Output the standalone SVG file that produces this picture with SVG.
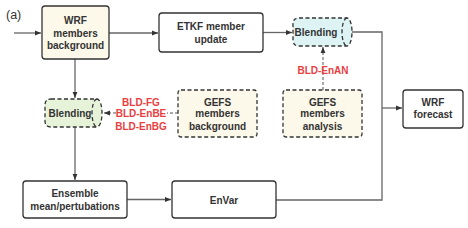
<svg xmlns="http://www.w3.org/2000/svg" width="468" height="228" viewBox="0 0 468 228">
<defs>
<marker id="ah" viewBox="0 0 8 8" refX="8" refY="4" markerWidth="6" markerHeight="6" orient="auto" markerUnits="userSpaceOnUse">
<path d="M0,0.8 L8,4 L0,7.2 Z" fill="#333"/>
</marker>
<style>
.box{stroke:#333;stroke-width:1.3;}
.solid{fill:#fff;}
.cream{fill:#fcf8ea;}
.dash{stroke-dasharray:4 2.5;}
.cyan{fill:#def3f4;}
.green{fill:#e7f3d9;}
.t{font-family:"Liberation Sans",Arial,sans-serif;font-weight:bold;font-size:10px;fill:#333;text-anchor:middle;}
.r{font-family:"Liberation Sans",Arial,sans-serif;font-weight:bold;font-size:10px;fill:#e8403f;text-anchor:middle;}
.c{fill:none;stroke:#666;stroke-width:1.3;}
.cd{fill:none;stroke:#555;stroke-width:1;stroke-dasharray:3 2;}
</style>
</defs>
<rect width="468" height="228" fill="#fff"/>
<text x="6" y="18.5" font-family="Liberation Sans,Arial,sans-serif" font-size="12.5" fill="#333">(a)</text>

<g id="connectors">
<path class="c" d="M14,33 H41" marker-end="url(#ah)"/>
<path class="c" d="M109,33 H158" marker-end="url(#ah)"/>
<path class="c" d="M263,32.5 H292" marker-end="url(#ah)"/>
<path class="c" d="M352,32 H382 V200 H276"/>
<path class="c" d="M382,108 H402" marker-end="url(#ah)"/>
<path class="c" d="M75,59 V98" marker-end="url(#ah)"/>
<path class="c" d="M75,127 V180" marker-end="url(#ah)"/>
<path class="c" d="M127,199.5 H171" marker-end="url(#ah)"/>
<path class="cd" d="M323,90 V47" marker-end="url(#ah)"/>
<path class="cd" d="M178,113 H167 M116,113 H104" marker-end="url(#ah)"/>
</g>

<g id="wrf-bg">
<rect class="box cream" x="42" y="6" width="67" height="53" rx="3"/>
<text class="t" x="75.5" y="24">WRF</text>
<text class="t" x="75.5" y="36.5">members</text>
<text class="t" x="75.5" y="49">background</text>
</g>

<g id="etkf">
<rect class="box solid" x="159" y="13" width="104" height="39" rx="3"/>
<text class="t" x="211" y="30">ETKF member</text>
<text class="t" x="211" y="43">update</text>
</g>

<g id="blend-top">
<path class="box cyan dash" d="M299,18 H347 A5 14 0 0 1 347,46 H299 Q293,46 293,40 V24 Q293,18 299,18 Z"/>
<path class="box dash" fill="none" d="M347,18 A5 14 0 0 0 347,46"/>
<text class="t" x="316" y="35.5">Blending</text>
</g>

<text class="r" x="323" y="74">BLD-EnAN</text>

<g id="blend-left">
<path class="box green dash" d="M51,99 H97 A5 14 0 0 1 97,127 H51 Q45,127 45,121 V105 Q45,99 51,99 Z"/>
<path class="box dash" fill="none" d="M97,99 A5 14 0 0 0 97,127"/>
<text class="t" x="70" y="116.5">Blending</text>
</g>

<text class="r" x="141" y="105.5">BLD-FG</text>
<text class="r" x="141" y="117">BLD-EnBE</text>
<text class="r" x="141" y="129.5">BLD-EnBG</text>

<g id="gefs-bg">
<rect class="box cream dash" x="178" y="90" width="79" height="47" rx="3"/>
<text class="t" x="217.5" y="105.5">GEFS</text>
<text class="t" x="217.5" y="117">members</text>
<text class="t" x="217.5" y="129.5">background</text>
</g>

<g id="gefs-an">
<rect class="box cream dash" x="283" y="90" width="79" height="47" rx="3"/>
<text class="t" x="322.5" y="105.5">GEFS</text>
<text class="t" x="322.5" y="117">members</text>
<text class="t" x="322.5" y="129.5">analysis</text>
</g>

<g id="wrf-fc">
<rect class="box solid" x="403" y="90" width="60" height="38" rx="3"/>
<text class="t" x="433" y="105.5">WRF</text>
<text class="t" x="433" y="117.5">forecast</text>
</g>

<g id="ensemble">
<rect class="box solid" x="23" y="181" width="104" height="37" rx="3"/>
<text class="t" x="75" y="196.5">Ensemble</text>
<text class="t" x="75" y="209.5">mean/pertubations</text>
</g>

<g id="envar">
<rect class="box solid" x="172" y="181" width="104" height="37" rx="3"/>
<text class="t" x="224" y="203.5">EnVar</text>
</g>
</svg>
